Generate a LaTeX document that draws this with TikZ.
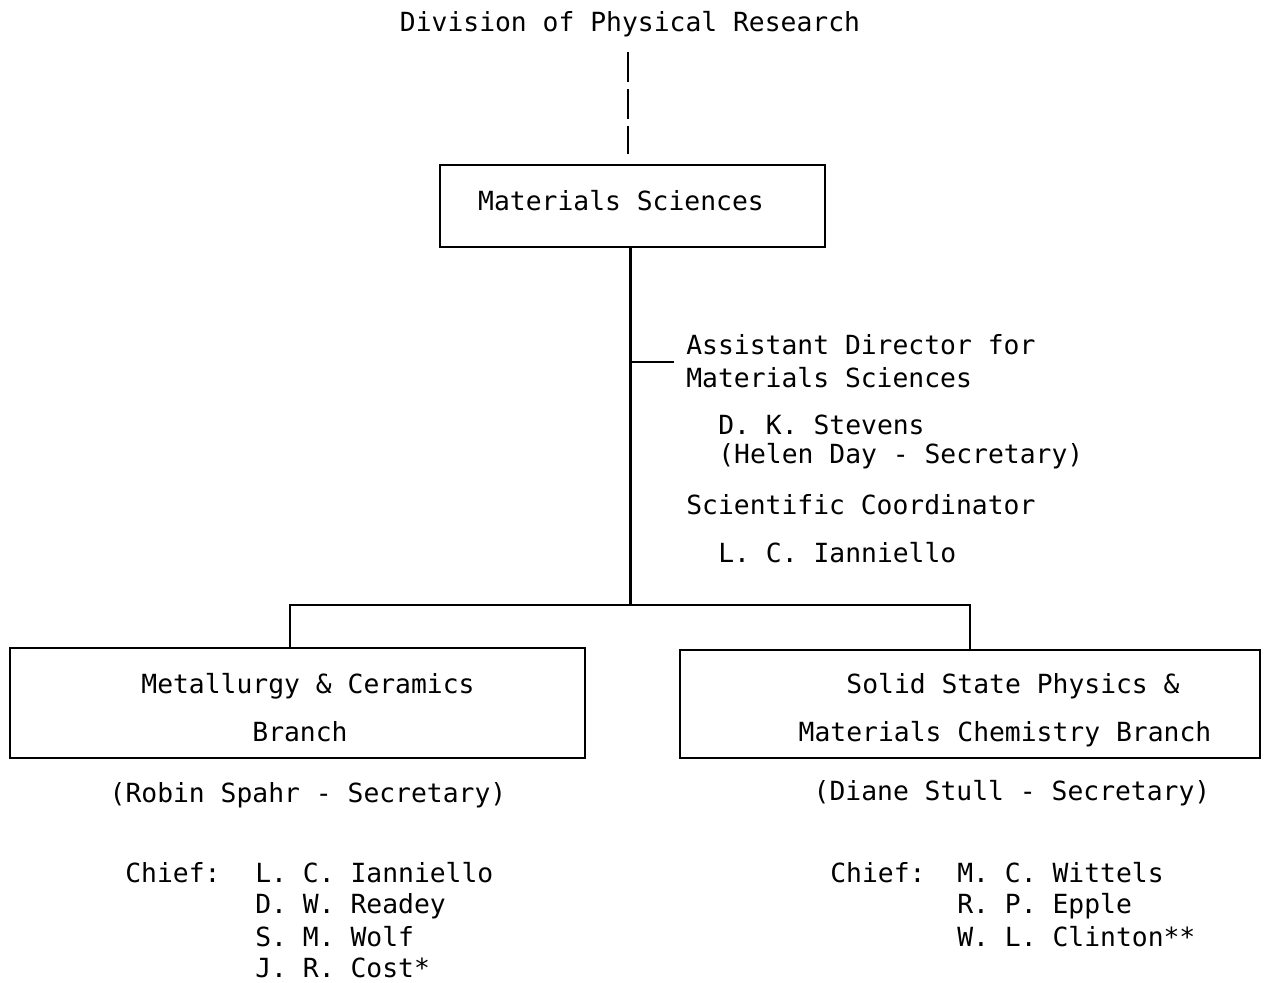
\documentclass[tikz,border=0pt]{standalone}
\usepackage{fontspec}
\setmonofont{DejaVu Sans Mono}

\begin{document}
\begin{tikzpicture}[x=0.02cm, y=-0.02cm,
txt/.style={font=\ttfamily\fontsize{15}{18}\selectfont, inner sep=0pt, anchor=base},
txtl/.style={txt, anchor=base west},
unit/.style={draw, line width=1.2pt, inner sep=0pt},
link/.style={line width=1.2pt},
trunk/.style={line width=1.7pt},
dotline/.style={line width=1.2pt, dash pattern=on 0.6cm off 0.14cm}]
\useasboundingbox (0,0) rectangle (1267,983);
% top
\node[txt] (div) at (630,32) {Division of Physical Research};
\node[unit, minimum width=7.7cm, minimum height=1.64cm] (ms) at (632.5,206) {};
\node[txt] (msT) at (621,211) {Materials Sciences};
% staff
\node[txtl] (ad1) at (686,354) {Assistant Director for};
\node[txtl] (ad2) at (686,387) {Materials Sciences};
\node[txtl] (ds1) at (718,434) {D. K. Stevens};
\node[txtl] (ds2) at (718,463) {(Helen Day - Secretary)};
\node[txtl] (sc) at (686,514) {Scientific Coordinator};
\node[txtl] (lci) at (718,562) {L. C. Ianniello};
% branches
\node[unit, minimum width=11.5cm, minimum height=2.2cm] (mc) at (297.5,703) {};
\node[txt] (mcT1) at (308,693) {Metallurgy \& Ceramics};
\node[txt] (mcT2) at (300,741) {Branch};
\node[unit, minimum width=11.6cm, minimum height=2.16cm] (ss) at (970,704) {};
\node[txt] (ssT1) at (1013,693) {Solid State Physics \&};
\node[txt] (ssT2) at (1005,741) {Materials Chemistry Branch};
\node[txt] (mcSec) at (308,802) {(Robin Spahr - Secretary)};
\node[txt] (ssSec) at (1012,800) {(Diane Stull - Secretary)};
% staff lists
\node[txtl] (mcChief) at (125,882) {Chief:};
\node[txtl] (mcN1) at (255,882) {L. C. Ianniello};
\node[txtl] (mcN2) at (255,913) {D. W. Readey};
\node[txtl] (mcN3) at (255,946) {S. M. Wolf};
\node[txtl] (mcN4) at (255,977) {J. R. Cost*};
\node[txtl] (ssChief) at (830,882) {Chief:};
\node[txtl] (ssN1) at (957,882) {M. C. Wittels};
\node[txtl] (ssN2) at (957,913) {R. P. Epple};
\node[txtl] (ssN3) at (957,946) {W. L. Clinton**};
% connectors
\coordinate (jn) at (630,605);
\coordinate (tk) at (630,362);
\coordinate (tkEnd) at (674,362);
\coordinate (mcDrop) at (290,605);
\draw[dotline, shorten <=0.28cm, shorten >=0.2cm] (div.south -| 628,0) -- (ms.north -| 628,0);
\draw[trunk] (jn |- ms.south) -- (jn);
\draw[link] (tk) -- (tkEnd);
\draw[link] (mcDrop |- mc.north) |- (jn) -| (ss.north);
\end{tikzpicture}
\end{document}
